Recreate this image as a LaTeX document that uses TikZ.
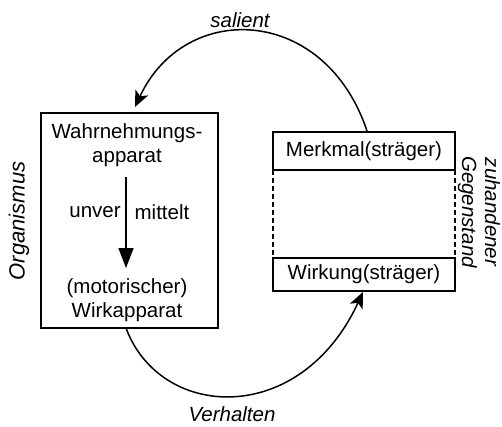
\documentclass[tikz,border=0pt]{standalone}
\usepackage{fontspec}
\setmainfont{Liberation Sans}
\usetikzlibrary{arrows.meta}
\begin{document}
\begin{tikzpicture}[x=1pt,y=-1pt,line width=1.5pt,
  box/.style={draw,inner sep=0pt,outer sep=0pt},
  txt/.style={inner sep=0pt,font=\fontsize{20.5}{24}\selectfont,align=center},
  itxt/.style={txt,font=\fontsize{20.5}{23}\selectfont\itshape},
  dashline/.style={line width=1.4pt,dash pattern=on 5pt off 3pt},
  curvearrow/.style={-{Stealth[length=16pt,width=14pt,inset=4pt]}}]
\useasboundingbox (0,0) rectangle (502,426);
\node[box,minimum width=177pt,minimum height=215pt] (org) at (129.5,220.5) {};
\node[box,minimum width=182pt,minimum height=38pt] (merk) at (364,151) {};
\node[box,minimum width=182pt,minimum height=33pt] (wirk) at (364,274.5) {};
\draw[dashline] (merk.south west) -- (wirk.north west);
\draw[dashline] (merk.south east) -- (wirk.north east);
\node[txt] at (merk) {Merkmal(sträger)};
\node[txt] at (wirk) {Wirkung(sträger)};
\node[txt] (wahr) at (127,145) {Wahrnehmungs-\\apparat};
\node[txt] (motor) at (127,300) {(motorischer)\\Wirkapparat};
\coordinate (a1) at (126,177);
\coordinate (a2) at (126,268);
\draw[-{Triangle[length=20pt,width=15pt]}] (a1) -- (a2);
\node[txt] (unver) at (95,212) {unver};
\node[txt] (mittelt) at (162,212) {mittelt};
\node[itxt,font=\fontsize{22}{24}\selectfont\itshape,rotate=90] (orgl) at (19,221) {Organismus};
\node[itxt,rotate=-90] (zuh) at (479,212) {zuhandener\\Gegenstand};
\coordinate (s0) at (367,131);
\coordinate (s1) at (135,107);
\draw[curvearrow] (s0) .. controls (325,5) and (185,0) .. (s1);
\coordinate (v0) at (126,328);
\coordinate (v1) at (363,292);
\draw[curvearrow] (v0) .. controls (160,420) and (300,428) .. (v1);
\node[itxt] (sal) at (240,20) {salient};
\node[itxt] (verh) at (232,414) {Verhalten};
\end{tikzpicture}
\end{document}
